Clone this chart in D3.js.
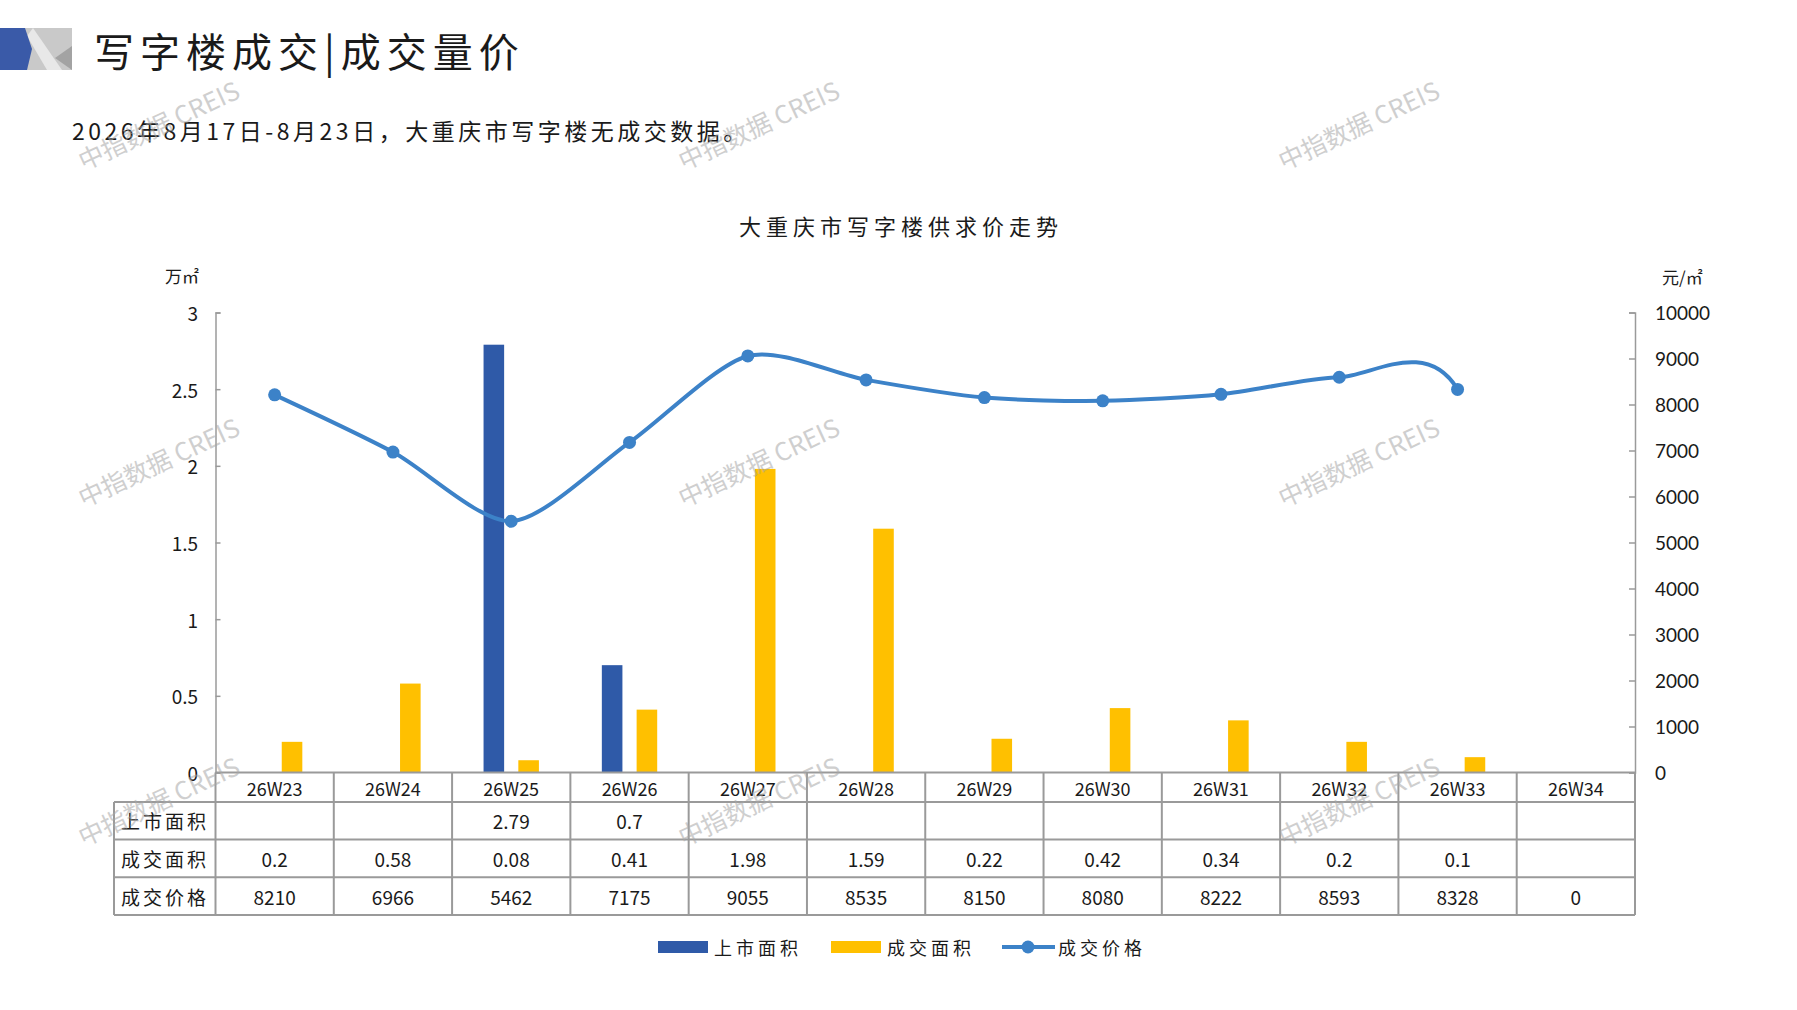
<!DOCTYPE html>
<html>
<head>
<meta charset="utf-8">
<script src="https://cdn.jsdelivr.net/npm/d3@7"></script>
<style>
  body { margin: 0; background: #fff; }
  text { font-family: "Noto Sans CJK SC", "Noto Sans", sans-serif; fill: #1a1a1a; }
</style>
</head>
<body>
<div id="chart"></div>
<script>
// chart data
var weeks = ["26W23", "26W24", "26W25", "26W26", "26W27", "26W28", "26W29", "26W30", "26W31", "26W32", "26W33", "26W34"];
var supplyArea = [null, null, 2.79, 0.7, null, null, null, null, null, null, null, null];
var dealArea = [0.2, 0.58, 0.08, 0.41, 1.98, 1.59, 0.22, 0.42, 0.34, 0.2, 0.1, null];
var dealPrice = [8210, 6966, 5462, 7175, 9055, 8535, 8150, 8080, 8222, 8593, 8328, 0];
var leftTicks = [0, 0.5, 1, 1.5, 2, 2.5, 3];
var rightTicks = [0, 1000, 2000, 3000, 4000, 5000, 6000, 7000, 8000, 9000, 10000];
var rowNames = ["上市面积", "成交面积", "成交价格"];
var seriesNames = ["上市面积", "成交面积", "成交价格"];

var W = 1797, H = 1010;
var blue = "#2f5aa8", yellow = "#ffc000", lineBlue = "#3c82c8", grid = "#9a9a9a";

var svg = d3.select("#chart").append("svg")
  .attr("width", W).attr("height", H);
svg.append("rect").attr("width", W).attr("height", H).attr("fill", "#fff");

// header logo + title
var logo = svg.append("g");
logo.append("rect").attr("x", 24).attr("y", 28).attr("width", 48).attr("height", 42).attr("fill", "#c9c9c9");
logo.append("polygon").attr("points", "27,36 33,28 62,70 47,70").attr("fill", "#e8e8e8");
logo.append("polygon").attr("points", "55,58 72,46 72,70").attr("fill", "#a3a3a3");
logo.append("polygon").attr("points", "0,28 25,28 32,49 27,70 0,70").attr("fill", "#3a5aa8");

svg.append("text")
  .attr("x", 94).attr("y", 50)
  .attr("dominant-baseline", "central")
  .style("font-size", "40px")
  .style("letter-spacing", "6px")
  .text("写字楼成交|成交量价");

svg.append("text")
  .attr("x", 72).attr("y", 130)
  .attr("dominant-baseline", "central")
  .style("font-size", "23px")
  .style("letter-spacing", "3.5px")
  .text("2026年8月17日-8月23日，大重庆市写字楼无成交数据。");

svg.append("text")
  .attr("x", 901).attr("y", 225)
  .attr("text-anchor", "middle")
  .attr("dominant-baseline", "central")
  .style("font-size", "22px")
  .style("letter-spacing", "5px")
  .text("大重庆市写字楼供求价走势");

// scales
var x = d3.scaleBand().domain(weeks).range([215.5, 1635]).paddingInner(0).paddingOuter(0);
var yL = d3.scaleLinear().domain([0, 3]).range([772.5, 312.5]);
var yR = d3.scaleLinear().domain([0, 10000]).range([772.5, 312.5]);
var bw = x.bandwidth();
var barW = bw * 0.174;
var barOff = bw * 0.147;

// axes
var axL = svg.append("g").attr("transform", "translate(" + x.range()[0] + ",0)")
  .call(d3.axisRight(yL).tickValues(leftTicks).tickSize(5).tickFormat(""));
var axR = svg.append("g").attr("transform", "translate(" + x.range()[1] + ",0)")
  .call(d3.axisLeft(yR).tickValues(rightTicks).tickSize(6).tickFormat(""));
[axL, axR].forEach(function(a) {
  a.selectAll("path, line").attr("stroke", grid).attr("stroke-width", 1.5);
});

svg.append("g").selectAll("text").data(leftTicks).join("text")
  .attr("x", 198).attr("y", function(d) { return yL(d); })
  .attr("text-anchor", "end")
  .attr("dominant-baseline", "central")
  .style("font-size", "19px")
  .text(function(d) { return d3.format("")(d); });

svg.append("g").selectAll("text").data(rightTicks).join("text")
  .attr("x", 1655).attr("y", function(d) { return yR(d); })
  .attr("dominant-baseline", "central")
  .style("font-family", "Lato, 'DejaVu Sans', sans-serif")
  .style("font-size", "19px")
  .text(function(d) { return d; });

svg.append("text").attr("x", 165).attr("y", 275)
  .attr("dominant-baseline", "central").style("font-size", "17px").text("万㎡");
svg.append("text").attr("x", 1662).attr("y", 276)
  .attr("dominant-baseline", "central").style("font-size", "17px").text("元/㎡");

// bars
svg.append("g").selectAll("rect").data(weeks).join("rect")
  .filter(function(d, i) { return supplyArea[i] != null; })
  .attr("x", function(d) { return x(d) + bw / 2 - barOff - barW / 2; })
  .attr("y", function(d) { return yL(supplyArea[weeks.indexOf(d)]); })
  .attr("width", barW)
  .attr("height", function(d) { return yL(0) - yL(supplyArea[weeks.indexOf(d)]); })
  .attr("fill", blue);

svg.append("g").selectAll("rect").data(weeks).join("rect")
  .filter(function(d, i) { return dealArea[i] != null; })
  .attr("x", function(d) { return x(d) + bw / 2 + barOff - barW / 2; })
  .attr("y", function(d) { return yL(dealArea[weeks.indexOf(d)]); })
  .attr("width", barW)
  .attr("height", function(d) { return yL(0) - yL(dealArea[weeks.indexOf(d)]); })
  .attr("fill", yellow);

// price line: the empty last week still bends the smoothing, the line stops at 26W33
var shown = dealPrice.map(function(v, i) { return i < weeks.length - 1; });
var lastX = x(weeks[weeks.length - 2]) + bw / 2;
svg.append("clipPath").attr("id", "lineclip")
  .append("rect").attr("x", 0).attr("y", 0).attr("width", lastX).attr("height", H);

var line = d3.line()
  .x(function(d, i) { return x(weeks[i]) + bw / 2; })
  .y(function(d) { return yR(d); })
  .curve(d3.curveCardinal.tension(0.2));

svg.append("path")
  .datum(dealPrice)
  .attr("d", line)
  .attr("clip-path", "url(#lineclip)")
  .attr("fill", "none")
  .attr("stroke", lineBlue)
  .attr("stroke-width", 4)
  .attr("stroke-linecap", "round");

svg.append("g").selectAll("circle").data(dealPrice.filter(function(d, i) { return shown[i]; })).join("circle")
  .attr("cx", function(d, i) { return x(weeks[i]) + bw / 2; })
  .attr("cy", function(d) { return yR(d); })
  .attr("r", 6.5)
  .attr("fill", lineBlue);

// data table under the plot
var t = svg.append("g");
var rowY = [772.5, 802, 839.5, 877.3, 915];
var left = 114, x0 = x.range()[0], x1 = x.range()[1];
rowY.forEach(function(y, i) {
  t.append("line").attr("x1", i == 0 ? x0 : left).attr("x2", x1)
    .attr("y1", y).attr("y2", y);
});
weeks.concat(["end"]).forEach(function(d, i) {
  var xx = x0 + i * bw;
  t.append("line").attr("x1", xx).attr("x2", xx).attr("y1", rowY[0]).attr("y2", rowY[4]);
});
t.append("line").attr("x1", left).attr("x2", left).attr("y1", rowY[1]).attr("y2", rowY[4]);
t.selectAll("line").attr("stroke", grid).attr("stroke-width", 2);

t.selectAll("text.wk").data(weeks).join("text")
  .attr("class", "wk")
  .attr("x", function(d) { return x(d) + bw / 2; })
  .attr("y", (rowY[0] + rowY[1]) / 2 + 1)
  .attr("text-anchor", "middle")
  .attr("dominant-baseline", "central")
  .style("font-size", "18px")
  .text(function(d) { return d; });

rowNames.forEach(function(name, r) {
  t.append("text")
    .attr("x", 121).attr("y", (rowY[r + 1] + rowY[r + 2]) / 2)
    .attr("dominant-baseline", "central")
    .style("font-size", "19px")
    .style("letter-spacing", "3px")
    .text(name);
});

[supplyArea, dealArea, dealPrice].forEach(function(vals, r) {
  t.append("g").selectAll("text").data(vals).join("text")
    .attr("x", function(d, i) { return x(weeks[i]) + bw / 2; })
    .attr("y", (rowY[r + 1] + rowY[r + 2]) / 2)
    .attr("text-anchor", "middle")
    .attr("dominant-baseline", "central")
    .style("font-size", "19px")
    .text(function(d) { return d == null ? "" : d; });
});

// legend
var lg = svg.append("g").attr("transform", "translate(0,947)");
var lgX = [658, 831, 1002];
lg.append("rect").attr("x", lgX[0]).attr("y", -6).attr("width", 50).attr("height", 12).attr("fill", blue);
lg.append("rect").attr("x", lgX[1]).attr("y", -6).attr("width", 50).attr("height", 12).attr("fill", yellow);
lg.append("line").attr("x1", lgX[2]).attr("x2", lgX[2] + 53).attr("y1", 0).attr("y2", 0)
  .attr("stroke", lineBlue).attr("stroke-width", 4);
lg.append("circle").attr("cx", lgX[2] + 26).attr("cy", 0).attr("r", 6.5).attr("fill", lineBlue);
seriesNames.forEach(function(s, i) {
  lg.append("text")
    .attr("x", lgX[i] + 56).attr("y", 0)
    .attr("dominant-baseline", "central")
    .style("font-size", "18px")
    .style("letter-spacing", "4px")
    .text(s);
});

// watermarks
var wmX = [158, 758, 1358], wmY = [124, 461, 800];
wmY.forEach(function(wy) {
  wmX.forEach(function(wx) {
    svg.append("text")
      .attr("transform", "translate(" + wx + "," + wy + ") rotate(-25)")
      .attr("text-anchor", "middle")
      .attr("dominant-baseline", "central")
      .style("font-size", "25px")
      .style("fill", "#a8a8a8")
      .style("opacity", 0.55)
      .text("中指数据 CREIS");
  });
});
</script>
</body>
</html>
